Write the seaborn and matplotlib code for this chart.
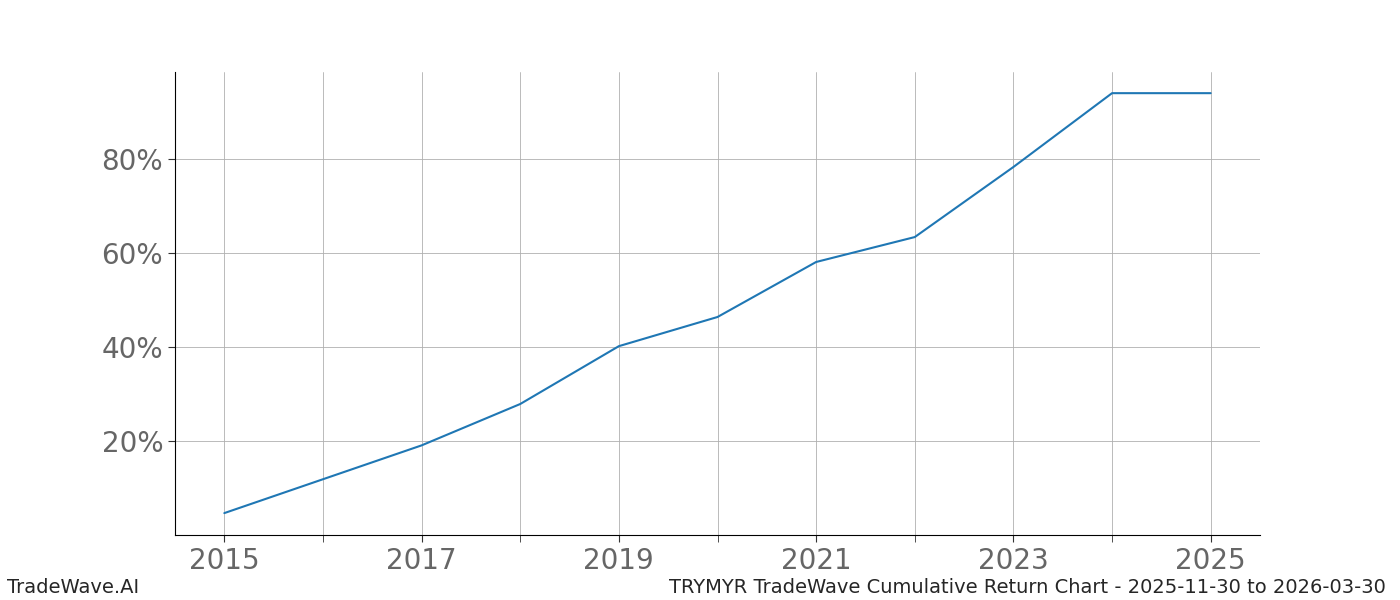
import matplotlib
matplotlib.use("Agg")
import matplotlib.pyplot as plt
import seaborn as sns
import pandas as pd
from matplotlib.ticker import FuncFormatter, MultipleLocator

years = [2015, 2016, 2017, 2018, 2019, 2020, 2021, 2022, 2023, 2024, 2025]
returns = [4.7, 11.9, 19.1, 27.9, 40.2, 46.4, 58.1, 63.4, 78.3, 94.0, 94.0]
xtick_labels = [2015, 2017, 2019, 2021, 2023, 2025]
df = pd.DataFrame({"year": years, "ret": returns})

sns.set_style("white")
fig = plt.figure(figsize=(14, 6), dpi=100)
ax = fig.add_axes([0.125, 0.108, 0.775, 0.772])
sns.lineplot(data=df, x="year", y="ret", ax=ax, color="#1f77b4", linewidth=1.5)
ax.set_xlim(2014.5, 2025.5)
ax.set_ylim(0, 98.5)
ax.set_xticks(xtick_labels)
ax.set_xticklabels([str(y) for y in xtick_labels])
ax.xaxis.set_minor_locator(MultipleLocator(1))
ax.set_yticks([20, 40, 60, 80])
ax.yaxis.set_major_formatter(FuncFormatter(lambda v, p: f"{int(v)}%"))
ax.grid(True, which="both", axis="x", color="#b0b0b0", linewidth=0.6)
ax.grid(True, which="major", axis="y", color="#b0b0b0", linewidth=0.6)
ax.tick_params(axis="both", which="major", labelsize=20, labelcolor="#666666", length=5, color="#333333", bottom=True, left=True)
ax.tick_params(axis="x", which="minor", length=5, bottom=True, color="#333333")
ax.set_xlabel("")
ax.set_ylabel("")
for s in ["top", "right"]:
    ax.spines[s].set_visible(False)
for s in ["left", "bottom"]:
    ax.spines[s].set_color("#000000")
    ax.spines[s].set_linewidth(0.8)
fig.text(0.005, 0.005, "TradeWave.AI", fontsize=14, ha="left", va="bottom")
fig.text(0.99, 0.005, "TRYMYR TradeWave Cumulative Return Chart - 2025-11-30 to 2026-03-30", fontsize=14, ha="right", va="bottom")
fig.savefig("out.png", dpi=100)
